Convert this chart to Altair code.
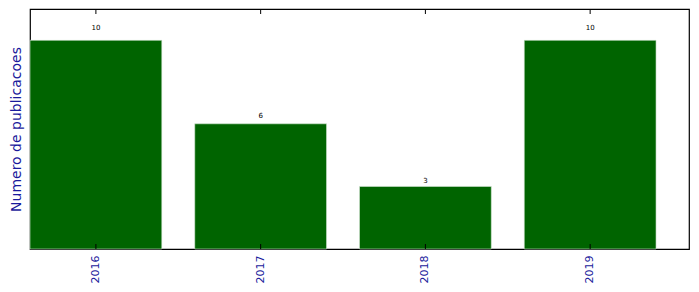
import altair as alt
import pandas as pd

years = ["2016", "2017", "2018", "2019"]
counts = [10, 6, 3, 10]

df = pd.DataFrame({"year": years, "count": counts})

W, H = 659, 240
blue = "#1a1a9c"

x_enc = alt.X(
    "year:N",
    sort=years,
    scale=alt.Scale(paddingInner=0.2, paddingOuter=0.1, align=0),
    axis=alt.Axis(
        title=None, labelAngle=-90, labelColor=blue, labelFontSize=11,
        labelFont="DejaVu Sans", ticks=False, domain=False, labelPadding=6,
        grid=False,
    ),
)
y_scale = alt.Scale(domain=[0, 11.5], nice=False, zero=True)

base = alt.Chart(df)

bars = base.mark_bar(color="#006400", stroke="#d8e8d8", strokeWidth=0.6).encode(
    x=x_enc,
    y=alt.Y(
        "count:Q",
        scale=y_scale,
        axis=alt.Axis(
            title="Numero de publicacoes", titleColor=blue, titleFontSize=14,
            titleFont="DejaVu Sans", titleFontWeight="normal", labels=False,
            ticks=False, domain=False, grid=False, titlePadding=7,
        ),
    ),
)

labels = base.transform_calculate(ly="datum.count * 1.05").mark_text(
    fontSize=7, font="DejaVu Sans", color="black", baseline="alphabetic"
).encode(
    x=x_enc,
    y=alt.Y("ly:Q", scale=y_scale),
    text="count:Q",
)

bottom_ticks = base.mark_rule(color="black", strokeWidth=1).encode(
    x=x_enc, y=alt.value(H), y2=alt.value(H - 5)
)
top_ticks = base.mark_rule(color="black", strokeWidth=1).encode(
    x=x_enc, y=alt.value(0), y2=alt.value(5)
)

chart = (
    alt.layer(bars, labels, bottom_ticks, top_ticks)
    .properties(
        width=W, height=H,
        autosize=alt.AutoSizeParams(type="none"),
        padding={"left": 30, "top": 9, "right": 10, "bottom": 43},
        background="white",
    )
    .configure_view(stroke="black", strokeWidth=1.2)
)

chart.save("out.html", embed_options={"renderer": "svg", "actions": False})
